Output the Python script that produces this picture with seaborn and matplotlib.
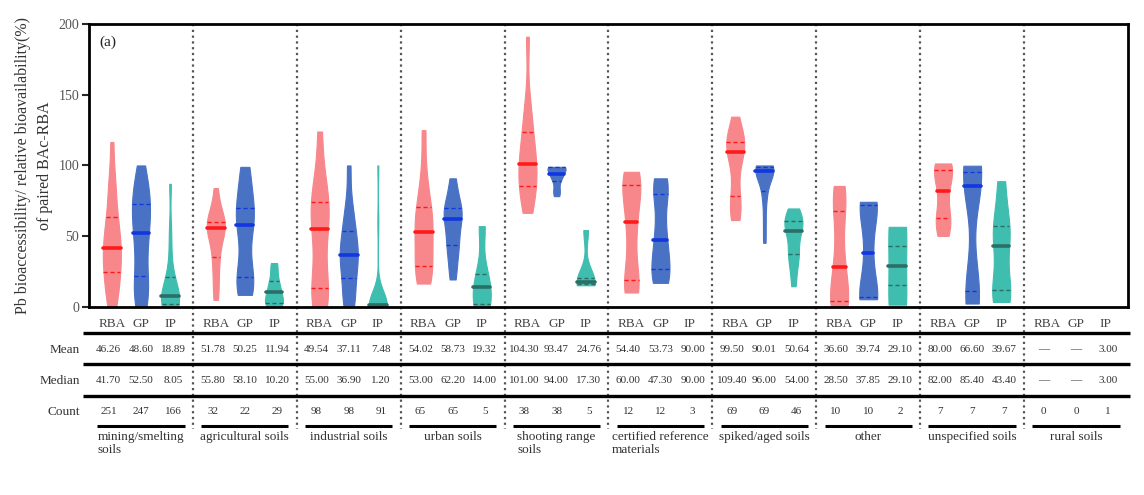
import numpy as np
import pandas as pd
import matplotlib
matplotlib.use("Agg")
import matplotlib.pyplot as plt
import seaborn as sns
from matplotlib.collections import LineCollection, PolyCollection

# soil categories and methods
groups = ["mining/smelting\nsoils", "agricultural soils", "industrial soils", "urban soils",
          "shooting range\nsoils", "certified reference\nmaterials", "spiked/aged soils",
          "other", "unspecified soils", "rural soils"]
methods = ["RBA", "GP", "IP"]

# values (min, quartiles, median, max and shape), one list per group
rba_values = [
    [0, 5, 12, 18, 24.7, 28, 33, 37, 41.7, 46, 50, 56, 63.6, 70, 85, 90, 116.6],
    [5, 15, 28, 35, 45, 52, 55.8, 57, 58, 60, 63, 70, 84],
    [0, 3, 8, 13.4, 25, 42, 55, 62, 68, 74.3, 82, 95, 124],
    [16.5, 20, 25, 29, 38, 47, 53, 58, 64, 70.3, 78, 95, 125],
    [66.5, 75, 80, 85.4, 92, 97, 101, 106, 112, 123.8, 130, 145, 191],
    [10.2, 12, 16, 20, 40, 58, 62, 80, 86, 88, 90, 95.5],
    [61.4, 66, 72, 78.3, 90, 102, 109.4, 112, 114, 116.8, 120, 125, 134.5],
    [0, 1, 3, 8, 25, 32, 55, 72, 80, 85.5],
    [50.2, 60, 65, 82, 95, 98, 101.4],
    [],
]
gp_values = [
    [0, 3, 8, 15, 21.9, 28, 40, 47, 52.5, 58, 65, 70, 72.8, 78, 85, 90, 100],
    [8.5, 12, 16, 21, 28, 45, 58.1, 62, 66, 70, 80, 92, 99],
    [0, 3, 8, 20.5, 28, 33, 36.9, 40, 46, 54, 62, 72, 100],
    [19.4, 28, 38, 43.7, 47, 55, 62.2, 64, 67, 69.6, 73, 82, 90.9],
    [78.3, 81, 84, 89, 91, 93, 94, 96, 98, 99, 99, 99, 99],
    [17, 19, 22, 28, 35, 44, 50, 62, 78, 84, 88, 90.9],
    [45.3, 60, 75, 82, 90, 94, 96, 97, 98, 99, 99, 99.5, 100],
    [5.4, 5.5, 5.6, 10, 30, 45.7, 65, 74, 74.2, 74.3],
    [2.4, 9, 14, 85.4, 94, 97, 99.8],
    [],
]
ip_values = [
    [0, 0.5, 1, 1.5, 2, 3, 5, 7, 8.05, 10, 13, 17, 21, 25, 40, 55, 87],
    [0.5, 1.5, 2.5, 3, 5, 8, 10.2, 12, 15, 18, 22, 28, 31],
    [0, 0, 0, 0, 0.2, 0.3, 0.5, 0.6, 0.8, 1, 1.1, 1.2, 1.3, 1.5, 1.6, 1.8, 2, 2.5, 3, 60, 100],
    [0.5, 2, 14, 23, 57.1],
    [15.3, 16.5, 17.3, 20.5, 54.3],
    [90, 90, 90],
    [14.6, 25, 33, 37.3, 40, 48, 54, 56, 58, 60.6, 63, 66, 69.6],
    [1.6, 56.6],
    [3.5, 10, 13.5, 43.4, 52, 62, 88.9],
    [3.0],
]

# table under the chart (None = no data)
mean_table = [[46.26, 48.60, 18.89], [51.78, 50.25, 11.94], [49.54, 37.11, 7.48],
              [54.02, 58.73, 19.32], [104.30, 93.47, 24.76], [54.40, 53.73, 90.00],
              [99.50, 90.01, 50.64], [36.60, 39.74, 29.10], [80.00, 66.60, 39.67],
              [None, None, 3.00]]
median_table = [[41.70, 52.50, 8.05], [55.80, 58.10, 10.20], [55.00, 36.90, 1.20],
                [53.00, 62.20, 14.00], [101.00, 94.00, 17.30], [60.00, 47.30, 90.00],
                [109.40, 96.00, 54.00], [28.50, 37.85, 29.10], [82.00, 85.40, 43.40],
                [None, None, 3.00]]
count_table = [[251, 247, 166], [32, 22, 29], [98, 98, 91], [65, 65, 5], [38, 38, 5],
               [12, 12, 3], [69, 69, 46], [10, 10, 2], [7, 7, 7], [0, 0, 1]]

palette = {"RBA": "#F7878B", "GP": "#4A72C4", "IP": "#3FBDAF"}
inner_colors = ["#FF1A1A", "#1236E0", "#2C6E66"]

rows = []
for g, r, gp, ip in zip(groups, rba_values, gp_values, ip_values):
    for m, vals in zip(methods, [r, gp, ip]):
        if len(vals) >= 2 and np.ptp(vals) > 0:
            for v in vals:
                rows.append({"group": g, "method": m, "value": v})
df = pd.DataFrame(rows)

sns.set_style("ticks")
plt.rcParams["font.family"] = ["Liberation Serif", "DejaVu Serif"]

fig = plt.figure(figsize=(11.44, 4.95), dpi=100)
ax = fig.add_axes([0.0778, 0.380, 0.9082, 0.5715])

width = 0.84
sns.violinplot(data=df, x="group", y="value", hue="method", order=groups,
               hue_order=methods, palette=palette, saturation=1, inner="quart",
               cut=0, density_norm="width", bw_adjust=0.75, width=width, gap=0.38,
               linewidth=0.8, legend=False, ax=ax)

offsets = np.array([-1, 0, 1]) * width / 3

# median of each violin, to tell median line from quartiles
med = {}
for gi, lists in enumerate(zip(rba_values, gp_values, ip_values)):
    for k, vals in enumerate(lists):
        if len(vals):
            med[(gi, k)] = np.percentile(vals, 50)


def which(xm):
    gi = int(np.round(xm))
    off = xm - gi
    k = 0 if off < -0.1 else (2 if off > 0.1 else 1)
    return gi, k


for coll in list(ax.collections):
    if isinstance(coll, LineCollection):
        segs = coll.get_segments()
        styles, widths, cols = [], [], []
        for s in segs:
            gi, k = which(np.mean(s[:, 0]))
            is_med = np.isclose(np.mean(s[:, 1]), med.get((gi, k), -1))
            styles.append("solid" if is_med else (0, (3, 2)))
            widths.append(2.6 if is_med else 1.0)
            cols.append(inner_colors[k])
        coll.set_linestyles(styles)
        coll.set_linewidths(widths)
        coll.set_colors(cols)
    elif isinstance(coll, PolyCollection):
        coll.set_edgecolor(coll.get_facecolor())
        coll.set_linewidth(0.8)

for ln in list(ax.lines):
    xd, yd = np.asarray(ln.get_xdata()), np.asarray(ln.get_ydata())
    gi, k = which(np.mean(xd))
    is_med = np.isclose(np.mean(yd), med.get((gi, k), -1))
    ln.set_color(inner_colors[k])
    ln.set_linestyle("-" if is_med else (0, (3, 2)))
    ln.set_linewidth(2.6 if is_med else 1.0)

ax.set_xlim(-0.5, len(groups) - 0.5)
ax.set_ylim(0, 200)
ax.set_yticks([0, 50, 100, 150, 200])
ax.set_xlabel("")
ax.set_ylabel("Pb bioaccessibility/ relative bioavailability(%)\nof paired BAc-RBA",
              fontsize=11.5, color="#333333", linespacing=1.5, labelpad=4)

tick_pos = [gi + o for gi in range(len(groups)) for o in offsets]
ax.set_xticks(tick_pos)
ax.set_xticklabels(methods * len(groups))
ax.tick_params(axis="x", length=0, pad=8, labelsize=9.5, labelcolor="#444444")
ax.tick_params(axis="y", direction="out", length=5, width=1.5, pad=2, labelsize=10,
               labelcolor="#555555")
for sp in ax.spines.values():
    sp.set_visible(True)
    sp.set_linewidth(2)
    sp.set_color("black")

ax.text(0.01, 0.935, "(a)", transform=ax.transAxes, fontsize=11, color="#222222",
        va="center", ha="left")

tr = ax.get_xaxis_transform()

# group separators, running down into the table
for gi in range(len(groups) - 1):
    ax.plot([gi + 0.5, gi + 0.5], [1, -0.43], transform=tr, clip_on=False,
            color="#555555", lw=1.6, ls=(0, (1, 1.6)))

# table rules
for yy in [-0.092, -0.201, -0.314]:
    ax.plot([-0.56, len(groups) - 0.48], [yy, yy], transform=tr, clip_on=False,
            color="black", lw=2.4, solid_capstyle="butt")

col_off = np.array([-1, 0, 1]) * 0.31


def fmt(v):
    return "—" if v is None else f"{v:.2f}"


row_y = {"Mean": -0.152, "Median": -0.261, "Count": -0.371}
for label, yy in row_y.items():
    ax.text(-0.585, yy, label, transform=tr, ha="right", va="center", fontsize=9.5,
            color="#333333")

for gi in range(len(groups)):
    for k in range(3):
        x = gi + col_off[k]
        ax.text(x, row_y["Mean"], fmt(mean_table[gi][k]), transform=tr, ha="center",
                va="center", fontsize=8, color="#333333")
        ax.text(x, row_y["Median"], fmt(median_table[gi][k]), transform=tr, ha="center",
                va="center", fontsize=8, color="#333333")
        ax.text(x, row_y["Count"], str(count_table[gi][k]), transform=tr, ha="center",
                va="center", fontsize=8, color="#333333")
    ax.plot([gi - 0.42, gi + 0.42], [-0.42, -0.42], transform=tr, clip_on=False,
            color="black", lw=2.2, solid_capstyle="butt")
    ax.text(gi, -0.44, groups[gi], transform=tr, ha="center", va="top", fontsize=9.5,
            multialignment="left", color="#333333", linespacing=1.1)

fig.savefig("out.png", dpi=100)
